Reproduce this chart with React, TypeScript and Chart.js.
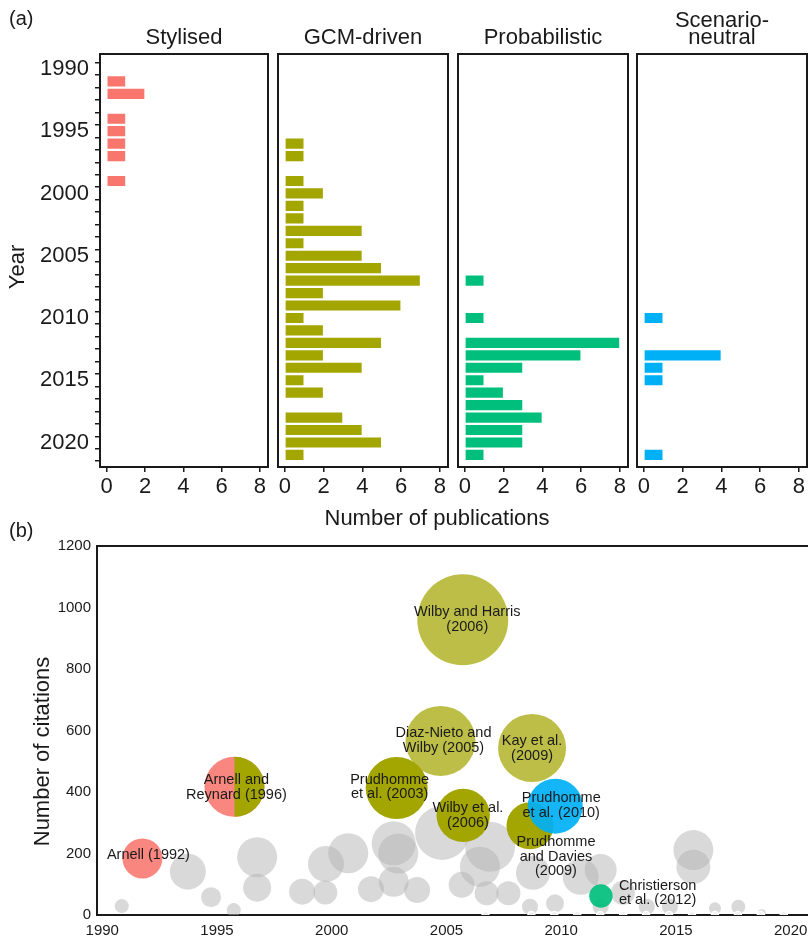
import React, { useEffect, useRef } from 'react';
import { Chart, registerables } from 'chart.js';

Chart.register(...registerables);

// ---------------- data ----------------
const YEARS = [
  1990, 1991, 1992, 1993, 1994, 1995, 1996, 1997, 1998, 1999,
  2000, 2001, 2002, 2003, 2004, 2005, 2006, 2007, 2008, 2009,
  2010, 2011, 2012, 2013, 2014, 2015, 2016, 2017, 2018, 2019,
  2020, 2021,
];
const STYLISED = [0, 1, 2, 0, 1, 1, 1, 1, 0, 1, 0, 0, 0, 0, 0, 0, 0, 0, 0, 0, 0, 0, 0, 0, 0, 0, 0, 0, 0, 0, 0, 0];
const GCM_DRIVEN = [0, 0, 0, 0, 0, 0, 1, 1, 0, 1, 2, 1, 1, 4, 1, 4, 5, 7, 2, 6, 1, 2, 5, 2, 4, 1, 2, 0, 3, 4, 5, 1];
const PROBABILISTIC = [0, 0, 0, 0, 0, 0, 0, 0, 0, 0, 0, 0, 0, 0, 0, 0, 0, 1, 0, 0, 1, 0, 8, 6, 3, 1, 2, 3, 4, 3, 3, 1];
const SCENARIO_NEUTRAL = [0, 0, 0, 0, 0, 0, 0, 0, 0, 0, 0, 0, 0, 0, 0, 0, 0, 0, 0, 0, 1, 0, 0, 4, 1, 1, 0, 0, 0, 0, 0, 1];
const PANEL_NAMES = ['Stylised', 'GCM-driven', 'Probabilistic', 'Scenario-neutral'];
const COUNT_TICKS = [0, 2, 4, 6, 8];

const KEY_PAPERS = [
  'Arnell (1992)', 'Arnell and Reynard (1996)', 'Prudhomme et al. (2003)', 'Wilby and Harris (2006)',
  'Diaz-Nieto and Wilby (2005)', 'Kay et al. (2009)', 'Wilby et al. (2006)', 'Prudhomme and Davies (2009)',
  'Prudhomme et al. (2010)', 'Christierson et al. (2012)',
];
const KEY_APPROACH = [
  'Stylised', 'Stylised+GCM-driven', 'GCM-driven', 'GCM-driven', 'GCM-driven', 'GCM-driven',
  'GCM-driven', 'GCM-driven', 'Scenario-neutral', 'Probabilistic',
];
const KEY_YEAR = [1991.75, 1995.76, 2002.83, 2005.71, 2004.74, 2008.73, 2005.73, 2008.64, 2009.74, 2011.73];
const KEY_CITATIONS = [184, 417, 413, 960, 566, 543, 324, 290, 354, 62];
const KEY_SIZE = [20, 30, 31, 45.5, 35, 34, 26.7, 23.5, 27.5, 11.7];

const OTHER_YEAR = [
  1990.85, 1993.73, 1994.74, 1995.73, 1996.75, 1996.75, 1998.71, 1999.75, 1999.72, 2000.72,
  2001.71, 2002.7, 2002.7, 2002.9, 2003.72, 2004.81, 2005.66, 2006.9, 2006.46, 2006.75,
  2007.7, 2008.64, 2008.77, 2009.73, 2010.85, 2011.72, 2011.72, 2012.69, 2013.73, 2014.74,
  2015.76, 2015.76, 2016.7, 2017.72, 2018.74, 2019.66,
];
const OTHER_CITATIONS = [
  29, 141, 58, 16, 188, 89, 76, 166, 73, 201,
  84, 108, 233, 200, 81, 267, 98, 222, 157, 71,
  71, 27, 137, 38, 124, 146, 27, 72, 27, 27,
  211, 157, 22, 27, 6, 0,
];
const OTHER_SIZE = [
  7, 18, 10, 7, 20, 14, 13, 18, 12, 20,
  13, 15, 22, 20, 13, 27, 13, 25, 20, 12,
  12, 8, 17, 9, 18, 16, 8, 12, 8, 8,
  20, 17, 6, 7, 4, 3,
];
const UNCITED_YEAR = [2006.7, 2008.7, 2009.7, 2010.7, 2011.7, 2012.7, 2013.7, 2014.7, 2015.7, 2016.7, 2017.7, 2018.7, 2019.7];
const TIME_TICKS = [1990, 1995, 2000, 2005, 2010, 2015, 2020];
const CITATION_TICKS = [0, 200, 400, 600, 800, 1000, 1200];

// ---------------- style ----------------
const FONT = "'Liberation Sans', Arial, Helvetica, sans-serif";
const INK = '#1a1a1a';
const APPROACH_COLOURS: Record<string, string> = {
  'Stylised': '#F8766D',
  'GCM-driven': '#A3A500',
  'Probabilistic': '#00BF7D',
  'Scenario-neutral': '#00B0F6',
};
const PANEL_TITLE_LINES = [['Stylised'], ['GCM-driven'], ['Probabilistic'], ['Scenario-', 'neutral']];
const KEY_ALPHA = [0.88, 0.88, 1, 0.72, 0.72, 0.72, 1, 1, 0.92, 0.92];
const KEY_LABELS = [
  { lines: ['Arnell (1992)'], dx: 6, dy: -3, align: 'center' },
  { lines: ['Arnell and', 'Reynard (1996)'], dx: 2, dy: -7, align: 'center' },
  { lines: ['Prudhomme', 'et al. (2003)'], dx: -7, dy: -8.5, align: 'center' },
  { lines: ['Wilby and Harris', '(2006)'], dx: 4.5, dy: -8, align: 'center' },
  { lines: ['Diaz-Nieto and', 'Wilby (2005)'], dx: 3, dy: -8, align: 'center' },
  { lines: ['Kay et al.', '(2009)'], dx: 0, dy: -7.3, align: 'center' },
  { lines: ['Wilby et al.', '(2006)'], dx: 4.7, dy: -7.6, align: 'center' },
  { lines: ['Prudhomme', 'and Davies', '(2009)'], dx: 26, dy: 16, align: 'center' },
  { lines: ['Prudhomme', 'et al. (2010)'], dx: 6, dy: -7.7, align: 'center' },
  { lines: ['Christierson', 'et al. (2012)'], dx: 18, dy: -10.3, align: 'left' },
];

Chart.defaults.font.family = FONT;
Chart.defaults.color = INK;

function withAlpha(hex: string, a: number) {
  const n = parseInt(hex.slice(1), 16);
  return `rgba(${(n >> 16) & 255},${(n >> 8) & 255},${n & 255},${a})`;
}

const sideTitlePlugin = {
  id: 'sideTitle',
  afterDraw(chart: any, _a: any, opts: any) {
    if (!opts || !opts.text) return;
    const { ctx, chartArea: a } = chart;
    ctx.save();
    ctx.translate(opts.x, (a.top + a.bottom) / 2 + opts.dy);
    ctx.rotate(-Math.PI / 2);
    ctx.font = `${opts.size}px ${FONT}`;
    ctx.fillStyle = INK;
    ctx.textAlign = 'center';
    ctx.textBaseline = 'middle';
    ctx.fillText(opts.text, 0, 0);
    ctx.restore();
  },
};

const panelPlugin = {
  id: 'panelDecor',
  afterDatasetsDraw(chart: any, _a: any, opts: any) {
    const { ctx, chartArea: a } = chart;
    ctx.save();
    ctx.strokeStyle = INK;
    ctx.lineWidth = 2;
    ctx.strokeRect(a.left, a.top, a.right - a.left, a.bottom - a.top);
    const lines: string[] = opts.lines || [];
    ctx.fillStyle = INK;
    ctx.font = `22px ${FONT}`;
    ctx.textAlign = 'center';
    ctx.textBaseline = 'alphabetic';
    const cx = (a.left + a.right) / 2;
    lines.forEach((t, i) => ctx.fillText(t, cx, a.top - 10 - (lines.length - 1 - i) * 17));
    ctx.restore();
  },
};

const bubblePlugin = {
  id: 'bubbleDecor',
  afterDatasetDraw(chart: any, args: any) {
    if (args.index !== 0) return;
    const { ctx } = chart;
    const meta = chart.getDatasetMeta(0);
    KEY_APPROACH.forEach((ap, i) => {
      const parts = ap.split('+');
      if (parts.length < 2) return;
      const el = meta.data[i];
      const r = el.options.radius;
      ctx.save();
      ctx.beginPath();
      ctx.moveTo(el.x, el.y - r);
      ctx.arc(el.x, el.y, r, -Math.PI / 2, Math.PI / 2);
      ctx.closePath();
      ctx.fillStyle = withAlpha(APPROACH_COLOURS[parts[1]], 1);
      ctx.fill();
      ctx.restore();
    });
  },
  afterDatasetsDraw(chart: any) {
    const { ctx, chartArea: a } = chart;
    ctx.save();
    ctx.strokeStyle = INK;
    ctx.lineWidth = 2;
    ctx.beginPath();
    ctx.moveTo(a.left - 1, a.top);
    ctx.lineTo(a.right, a.top);
    ctx.stroke();
    const meta = chart.getDatasetMeta(0);
    ctx.fillStyle = INK;
    ctx.font = `14.5px ${FONT}`;
    ctx.textBaseline = 'middle';
    KEY_LABELS.forEach((lab, i) => {
      const el = meta.data[i];
      if (!el) return;
      ctx.textAlign = lab.align;
      lab.lines.forEach((t, j) => ctx.fillText(t, el.x + lab.dx, el.y + lab.dy + j * 14.8));
    });
    ctx.restore();
  },
};

const PANEL_VALUES = [STYLISED, GCM_DRIVEN, PROBABILISTIC, SCENARIO_NEUTRAL];

function BarPanel({ idx, left, width, padLeft, padRight, showY }: any) {
  const ref = useRef<HTMLCanvasElement>(null);
  useEffect(() => {
    const values = PANEL_VALUES[idx];
    const chart = new Chart(ref.current as HTMLCanvasElement, {
      type: 'bar',
      data: {
        datasets: [{
          data: YEARS.map((y, i) => ({ x: values[i] === 0 ? null : values[i], y })) as any,
          backgroundColor: APPROACH_COLOURS[PANEL_NAMES[idx]],
          borderColor: 'rgba(255,255,255,0.35)',
          borderWidth: 1,
          barThickness: 11.5,
        }],
      },
      options: {
        indexAxis: 'y',
        animation: false,
        responsive: false,
        events: [],
        layout: { autoPadding: false, padding: { left: padLeft, right: padRight, top: 54, bottom: 0 } },
        plugins: {
          legend: { display: false },
          tooltip: { enabled: false },
          panelDecor: { lines: PANEL_TITLE_LINES[idx] },
          sideTitle: showY ? { text: 'Year', x: 18, dy: 6.5, size: 22 } : {},
        } as any,
        scales: {
          x: {
            type: 'linear', min: -0.35, max: 8.42,
            afterBuildTicks: (s: any) => { s.ticks = COUNT_TICKS.map((v) => ({ value: v })); },
            afterFit: (s: any) => { s.height = 43; },
            grid: { display: true, drawOnChartArea: false, drawTicks: true, tickLength: 5, color: INK, lineWidth: 1.5 },
            border: { display: false },
            ticks: { padding: 2, font: { size: 22 }, color: INK, autoSkip: false, maxRotation: 0, callback: (v: any) => String(v) },
          },
          y: {
            type: 'linear', reverse: true, min: 1989.32, max: 2021.45, display: showY,
            afterBuildTicks: (s: any) => { s.ticks = YEARS.map((v) => ({ value: v })); },
            afterFit: (s: any) => { s.width = showY ? 94 : 0; },
            grid: { display: true, drawOnChartArea: false, drawTicks: true, tickLength: 5, color: INK, lineWidth: 1.5 },
            border: { display: false },
            ticks: { padding: 6, font: { size: 22 }, color: INK, autoSkip: false, callback: (v: any) => (v % 5 === 0 ? String(v) : '') },
          },
        } as any,
      },
      plugins: [panelPlugin, sideTitlePlugin],
    });
    return () => chart.destroy();
  }, []);
  return <canvas ref={ref} width={width} height={510} style={{ position: 'absolute', left, top: 0 }} />;
}

function BubblePanel() {
  const ref = useRef<HTMLCanvasElement>(null);
  useEffect(() => {
    const chart = new Chart(ref.current as HTMLCanvasElement, {
      type: 'bubble',
      data: {
        datasets: [
          {
            label: 'Key papers',
            data: KEY_YEAR.map((x, i) => ({ x, y: KEY_CITATIONS[i], r: KEY_SIZE[i] })),
            backgroundColor: KEY_APPROACH.map((ap, i) => withAlpha(APPROACH_COLOURS[ap.split('+')[0]], KEY_ALPHA[i])),
            borderWidth: 0,
            order: 0,
          },
          {
            label: 'Uncited',
            data: UNCITED_YEAR.map((x) => ({ x, y: 0, r: 3.5 })),
            backgroundColor: '#eeeeee',
            borderColor: '#ffffff',
            borderWidth: 1.5,
            order: 1,
          },
          {
            label: 'Other papers',
            data: OTHER_YEAR.map((x, i) => ({ x, y: OTHER_CITATIONS[i], r: OTHER_SIZE[i] })),
            backgroundColor: 'rgba(180,180,180,0.5)',
            borderWidth: 0,
            order: 2,
          },
        ],
      },
      options: {
        animation: false,
        responsive: false,
        events: [],
        layout: { autoPadding: false, padding: { left: 0, right: 0, top: 16, bottom: 0 } },
        plugins: {
          legend: { display: false },
          tooltip: { enabled: false },
          sideTitle: { text: 'Number of citations', x: 42.5, dy: 21, size: 22 },
        } as any,
        scales: {
          x: {
            type: 'linear', min: 1989.77, max: 2022.15,
            afterBuildTicks: (s: any) => { s.ticks = TIME_TICKS.map((v) => ({ value: v })); },
            afterFit: (s: any) => { s.height = 23; },
            grid: { display: false, drawTicks: false },
            border: { display: true, color: INK, width: 2 },
            ticks: { padding: 7, font: { size: 15 }, color: INK, autoSkip: false, maxRotation: 0, callback: (v: any) => String(v) },
          },
          y: {
            type: 'linear', min: 0, max: 1200,
            afterBuildTicks: (s: any) => { s.ticks = CITATION_TICKS.map((v) => ({ value: v })); },
            afterFit: (s: any) => { s.width = 97; },
            grid: { display: false, drawTicks: false },
            border: { display: true, color: INK, width: 2 },
            ticks: { padding: 6, font: { size: 15 }, color: INK, autoSkip: false, callback: (v: any) => String(v) },
          },
        } as any,
      },
      plugins: [bubblePlugin, sideTitlePlugin],
    });
    return () => chart.destroy();
  }, []);
  return <canvas ref={ref} width={840} height={408} style={{ position: 'absolute', left: 0, top: 530 }} />;
}

export default function App() {
  const txt: React.CSSProperties = { position: 'absolute', fontFamily: FONT, color: INK, whiteSpace: 'nowrap', lineHeight: 1 };
  return (
    <div style={{ position: 'absolute', left: 0, top: 0, width: 808, height: 938, overflow: 'hidden', background: '#fff' }}>
      <BarPanel idx={0} left={0} width={275} padLeft={6} padRight={7} showY={true} />
      <BarPanel idx={1} left={273} width={180} padLeft={5} padRight={5} showY={false} />
      <BarPanel idx={2} left={453} width={180} padLeft={5} padRight={5} showY={false} />
      <BarPanel idx={3} left={632} width={176} padLeft={5} padRight={1} showY={false} />
      <BubblePanel />
      <div style={{ ...txt, left: 9, top: 8, fontSize: 20 }}>(a)</div>
      <div style={{ ...txt, left: 9, top: 520, fontSize: 20 }}>(b)</div>
      <div style={{ ...txt, left: 437, top: 518, fontSize: 22, transform: 'translate(-50%, -50%)' }}>Number of publications</div>
    </div>
  );
}
